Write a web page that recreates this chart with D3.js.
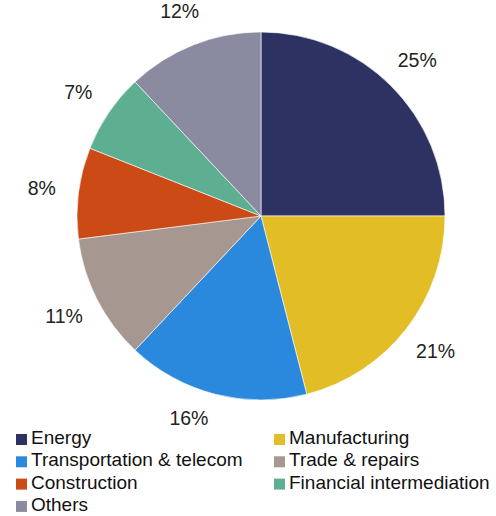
<!DOCTYPE html>
<html>
<head>
<meta charset="utf-8">
<script src="https://cdn.jsdelivr.net/npm/d3@7/dist/d3.min.js"></script>
<style>
  html, body { margin: 0; padding: 0; background: #fff; }
  svg { display: block; font-family: "Liberation Sans", Arial, sans-serif; }
</style>
</head>
<body>
<svg id="chart" width="496" height="516"></svg>
<script>
// Share of output by sector (%)
const sectors = ["Energy", "Manufacturing", "Transportation & telecom", "Trade & repairs",
                 "Construction", "Financial intermediation", "Others"];
const shares = [25, 21, 16, 11, 8, 7, 12];
const colors = ["#2e3262", "#e3bd26", "#2a89dc", "#a69890", "#cc4a15", "#5eae91", "#8a8aa1"];

const svg = d3.select("#chart");
const cx = 261, cy = 216, radius = 184;

const data = sectors.map((s, i) => ({ sector: s, value: shares[i], color: colors[i] }));

const pie = d3.pie().value(d => d.value).sort(null);
const arc = d3.arc().innerRadius(0).outerRadius(radius);
const arcs = pie(data);

const g = svg.append("g").attr("transform", `translate(${cx},${cy})`);

g.selectAll("path.slice")
  .data(arcs)
  .join("path")
  .attr("class", "slice")
  .attr("d", arc)
  .attr("fill", d => d.data.color)
  .attr("stroke", "#fff")
  .attr("stroke-width", 0.6);

// Percentage labels outside each slice; a label that would run into the
// legend is pulled in and turned sideways until it clears it.
const labelR = 221, tightR = 214, labelMaxY = 201.5;
function labelPos(d) {
  let a = (d.startAngle + d.endAngle) / 2;
  let x = labelR * Math.sin(a), y = -labelR * Math.cos(a);
  if (y > labelMaxY) {
    const off = Math.acos(Math.min(1, labelMaxY / tightR));
    a = a < Math.PI ? Math.PI - off : Math.PI + off;
    x = tightR * Math.sin(a); y = -tightR * Math.cos(a);
  }
  return [x, y];
}

g.selectAll("text.pct")
  .data(arcs)
  .join("text")
  .attr("class", "pct")
  .attr("x", d => labelPos(d)[0])
  .attr("y", d => labelPos(d)[1])
  .attr("text-anchor", "middle")
  .attr("dominant-baseline", "central")
  .attr("font-size", 19.5)
  .attr("fill", "#222")
  .text(d => d.data.value + "%");

// Legend: two columns
const legend = svg.append("g").attr("class", "legend");
const colX = [16, 274], rowH = 22.3, firstBaseline = 444;
const items = legend.selectAll("g.item")
  .data(data)
  .join("g")
  .attr("class", "item")
  .attr("transform", (d, i) => `translate(${colX[i % 2]},${firstBaseline + Math.floor(i / 2) * rowH})`);

items.append("rect")
  .attr("x", 0).attr("y", -10)
  .attr("width", 11).attr("height", 11)
  .attr("fill", d => d.color);

items.append("text")
  .attr("x", 15)
  .attr("y", 0)
  .attr("font-size", 19)
  .attr("fill", "#111")
  .text(d => d.sector);
</script>
</body>
</html>
